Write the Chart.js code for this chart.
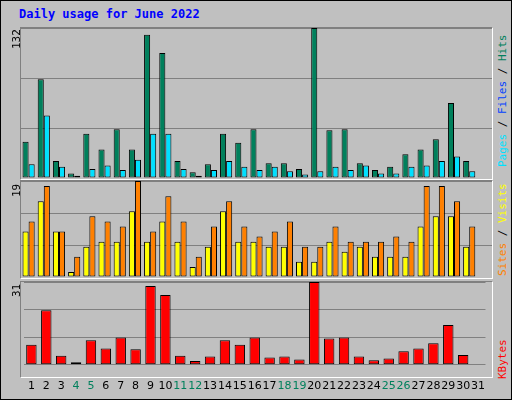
<!DOCTYPE html>
<html><head><meta charset="utf-8">
<script src="https://cdn.jsdelivr.net/npm/chart.js"></script>
<style>
body{margin:0;background:#fff}
#wrap{position:absolute;left:0;top:0;width:510px;height:398px;background:#c0c0c0;border:1px solid #000;border-right:2px solid #000;border-bottom:2px solid #000;overflow:hidden}
.p{position:absolute;left:19px;width:471px;border-top:1px solid #808080;border-left:1px solid #808080;border-right:1px solid #fff;border-bottom:1px solid #fff}
canvas{position:absolute}
.t{position:absolute;font-family:"DejaVu Sans Mono",monospace;font-size:11px;white-space:nowrap;transform:rotate(-90deg);transform-origin:left top}
</style></head><body>
<div id="wrap">
<div style="position:absolute;left:18px;top:6px;font:bold 12px 'DejaVu Sans Mono',monospace;color:#0000ff">Daily usage for June 2022</div>
<div class="p" style="top:26px;height:151px"></div>
<div class="p" style="top:179px;height:97px"></div>
<div class="p" style="top:280px;height:95px"></div>
<canvas id="c1" style="left:20px;top:27px;width:471px;height:150px" width="471" height="150"></canvas>
<canvas id="c2" style="left:20px;top:180px;width:471px;height:96px" width="471" height="96"></canvas>
<canvas id="c3" style="left:20px;top:281px;width:471px;height:118px" width="471" height="118"></canvas>
<div class="t" style="left:9px;top:48px">132</div>
<div class="t" style="left:9px;top:196px">19</div>
<div class="t" style="left:9px;top:296px">31</div>
<div class="t" style="left:495px;top:166px"><span style="color:#00e0ff">Pages</span> / <span style="color:#0040ff">Files</span> / <span style="color:#00805c">Hits</span></div>
<div class="t" style="left:495px;top:275px"><span style="color:#ff8000">Sites</span> / <span style="color:#ffff00">Visits</span></div>
<div class="t" style="left:495px;top:378px"><span style="color:#ff0000">KBytes</span></div>
</div>
<script>
const days=["1","2","3","4","5","6","7","8","9","10","11","12","13","14","15","16","17","18","19","20","21","22","23","24","25","26","27","28","29","30","31"];
const weekend=[4,5,11,12,18,19,25,26];
const hits=[32,87,15,4,39,25,43,25,126,110,15,5,12,39,31,43,13,13,8,132,42,43,13,7,10,21,25,34,66,15,0];
const pages=[12,55,10,2,8,11,7,16,39,39,8,2,7,15,10,7,10,6,3,6,10,7,11,4,4,10,11,15,19,6,0];
const visits=[9,15,9,1,6,7,7,13,7,11,7,2,6,13,7,7,6,6,3,3,7,5,6,4,4,4,10,12,12,6,0];
const sites=[11,18,9,4,12,11,10,19,9,16,11,4,10,15,10,8,9,11,6,6,10,7,7,7,8,7,18,18,15,10,0];
const kbytes=[7.5,20.4,3.4,1.0,9.2,6.1,10.2,5.8,29.5,26.1,3.4,1.4,3.1,9.2,7.5,10.2,2.7,3.1,2.0,31,9.8,10.2,3.1,1.7,2.4,5.1,6.1,8.1,14.9,3.7,0];
function mk(id,sets,max,showX){
 new Chart(document.getElementById(id),{type:'bar',
  data:{labels:days,datasets:sets.map(s=>({data:s[0],backgroundColor:s[1],borderColor:'#000',borderWidth:1,borderSkipped:false,barPercentage:1,categoryPercentage:s[2]}))},
  options:{responsive:false,animation:false,devicePixelRatio:1,layout:{padding:0},
   plugins:{legend:{display:false},tooltip:{enabled:false}},
   scales:{x:{display:showX,grid:{display:false},border:{display:false},
     ticks:{padding:7,font:{family:'DejaVu Sans',size:11},color:c=>weekend.includes(c.index+1)?'#00805c':'#000',maxRotation:0,autoSkip:false}},
    y:{min:0,max:max,ticks:{display:false,stepSize:max/3},grid:{color:'#808080',drawTicks:false,lineWidth:1},border:{display:false}}}}});
}
mk('c1',[[hits,'#00805c',0.8],[pages,'#00e0ff',0.8]],132,false);
mk('c2',[[visits,'#ffff00',0.8],[sites,'#ff8000',0.8]],19,false);
mk('c3',[[kbytes,'#ff0000',0.7]],31,true);
</script></body></html>
